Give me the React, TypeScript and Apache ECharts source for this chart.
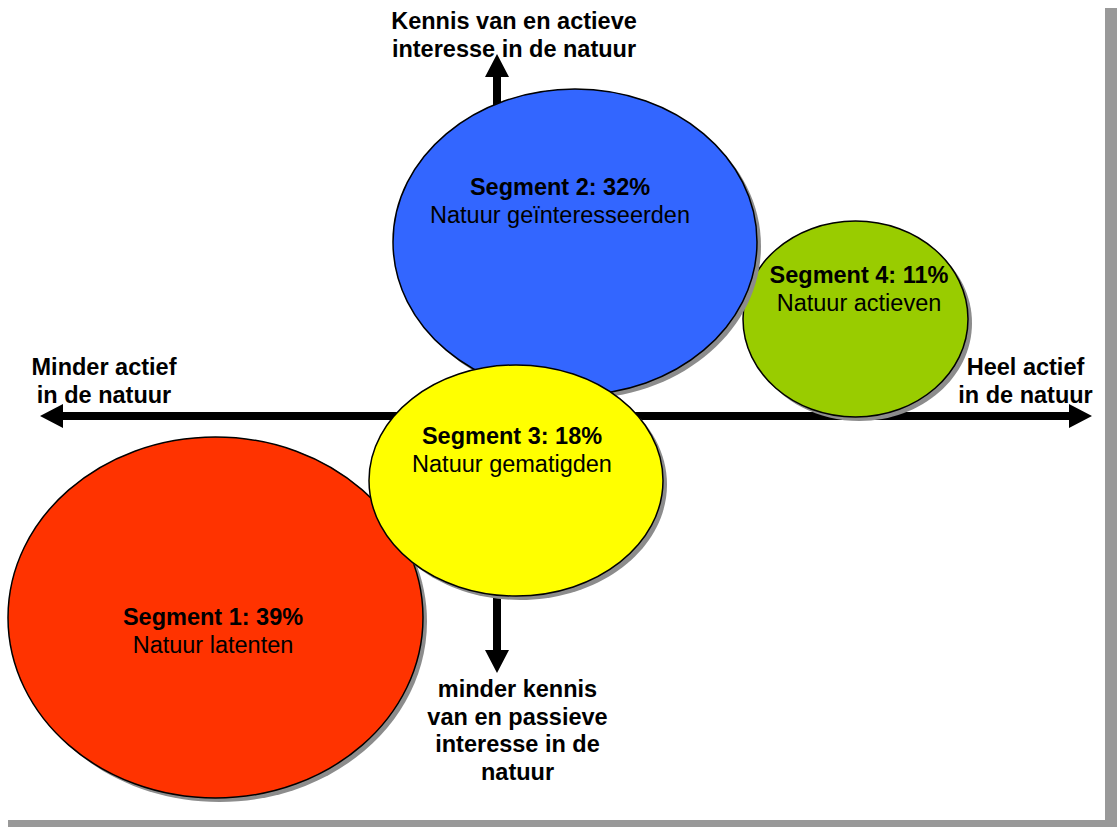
import React, { useEffect, useRef } from 'react';
import * as echarts from 'echarts';

// Segment bubbles (concept space: origin where the two arrows cross)
const segmentTitles = ['Segment 1: 39%', 'Segment 2: 32%', 'Segment 3: 18%', 'Segment 4: 11%'];
const segmentNames = ['Natuur latenten', 'Natuur geïnteresseerden', 'Natuur gematigden', 'Natuur actieven'];
const segmentColors = ['#FF3300', '#3366FF', '#FFFF00', '#99CC00'];
const segmentCenterX = [-281.5, 78, 19, 358.5];
const segmentCenterY = [-201.5, 174, -64.5, 97];
const segmentRadiusX = [207.5, 182, 147, 112.5];
const segmentRadiusY = [180.5, 153, 115.5, 98];
const segmentLabelX = [-284, 63, 15, 362];
const segmentLabelY = [-215, 215, -34, 127];
const segmentDrawOrder = [3, 1, 0, 2];

// Axis arrows (double headed)
const arrowFromX = [-457, 0];
const arrowFromY = [0, 362];
const arrowToX = [595, 0];
const arrowToY = [0, -257];

// Axis end labels
const axisLabelLines = [
  ['Kennis van en actieve', 'interesse in de natuur'],
  ['Minder actief', 'in de natuur'],
  ['Heel actief', 'in de natuur'],
  ['minder kennis', 'van en passieve', 'interesse in de', 'natuur'],
];
const axisLabelX = [17, -393, 528.5, 20.5];
const axisLabelY = [395.5, 49.5, 49.5, -273];

const X_MIN = -497;
const X_MAX = 620;
const Y_MIN = -411;
const Y_MAX = 416;

const FONT_FAMILY = '"Liberation Sans", Arial, Helvetica, sans-serif';
const BOLD_FONT = `bold 23.5px ${FONT_FAMILY}`;
const NORMAL_FONT = `23.5px ${FONT_FAMILY}`;

export default function App() {
  const ref = useRef<HTMLDivElement>(null);

  useEffect(() => {
    document.body.style.margin = '0';
    if (!ref.current) return;
    const chart = echarts.init(ref.current, undefined, { renderer: 'svg' });

    const ellipseData = segmentDrawOrder.map((i) => [
      segmentCenterX[i],
      segmentCenterY[i],
      segmentRadiusX[i],
      segmentRadiusY[i],
      segmentLabelX[i],
      segmentLabelY[i],
      i,
    ]);

    const arrowData = arrowFromX.map((_, i) => [arrowFromX[i], arrowFromY[i], arrowToX[i], arrowToY[i]]);
    const labelData = axisLabelLines.map((_, i) => [axisLabelX[i], axisLabelY[i], i]);

    const option: any = {
      animation: false,
      backgroundColor: '#ffffff',
      grid: { left: 0, right: 0, top: 0, bottom: 0, containLabel: false },
      xAxis: { type: 'value', min: X_MIN, max: X_MAX, show: false, splitLine: { show: false } },
      yAxis: { type: 'value', min: Y_MIN, max: Y_MAX, show: false, splitLine: { show: false } },
      tooltip: { show: false },
      graphic: [
        {
          type: 'rect',
          z: 0,
          silent: true,
          shape: { x: 8, y: 8, width: 1109, height: 819 },
          style: { fill: '#999999' },
        },
        {
          type: 'rect',
          z: 1,
          silent: true,
          shape: { x: 0, y: 0, width: 1105, height: 820 },
          style: { fill: '#ffffff' },
        },
      ],
      series: [
        {
          type: 'custom',
          name: 'arrows',
          coordinateSystem: 'cartesian2d',
          z: 5,
          silent: true,
          encode: { x: [0, 2], y: [1, 3] },
          data: arrowData,
          renderItem: (params: any, api: any) => {
            const p1 = api.coord([api.value(0), api.value(1)]);
            const p2 = api.coord([api.value(2), api.value(3)]);
            const dx = p2[0] - p1[0];
            const dy = p2[1] - p1[1];
            const len = Math.sqrt(dx * dx + dy * dy);
            const ux = dx / len;
            const uy = dy / len;
            const nx = -uy;
            const ny = ux;
            const L = 23;
            const H = 12;
            const s = 4;
            const pt = (base: number[], along: number, side: number) => [
              base[0] + ux * along + nx * side,
              base[1] + uy * along + ny * side,
            ];
            const points = [
              p1,
              pt(p1, L, H),
              pt(p1, L, s),
              pt(p2, -L, s),
              pt(p2, -L, H),
              p2,
              pt(p2, -L, -H),
              pt(p2, -L, -s),
              pt(p1, L, -s),
              pt(p1, L, -H),
            ];
            return {
              type: 'polygon',
              shape: { points },
              style: { fill: '#000000' },
            };
          },
        },
        {
          type: 'custom',
          name: 'segments',
          coordinateSystem: 'cartesian2d',
          z: 6,
          silent: true,
          encode: { x: 0, y: 1 },
          data: ellipseData,
          renderItem: (params: any, api: any) => {
            const c = api.coord([api.value(0), api.value(1)]);
            const sz = api.size([api.value(2), api.value(3)]);
            const lp = api.coord([api.value(4), api.value(5)]);
            const idx = api.value(6);
            return {
              type: 'group',
              children: [
                {
                  type: 'ellipse',
                  shape: { cx: c[0] + 4, cy: c[1] + 4, rx: sz[0], ry: sz[1] },
                  style: { fill: '#8c8c8c' },
                },
                {
                  type: 'ellipse',
                  shape: { cx: c[0], cy: c[1], rx: sz[0], ry: sz[1] },
                  style: { fill: segmentColors[idx], stroke: '#000000', lineWidth: 1.5 },
                },
                {
                  type: 'text',
                  x: lp[0],
                  y: lp[1] - 14,
                  style: {
                    text: segmentTitles[idx],
                    font: BOLD_FONT,
                    fill: '#000000',
                    textAlign: 'center',
                    textVerticalAlign: 'middle',
                    align: 'center',
                    verticalAlign: 'middle',
                  },
                },
                {
                  type: 'text',
                  x: lp[0],
                  y: lp[1] + 14,
                  style: {
                    text: segmentNames[idx],
                    font: NORMAL_FONT,
                    fill: '#000000',
                    textAlign: 'center',
                    textVerticalAlign: 'middle',
                    align: 'center',
                    verticalAlign: 'middle',
                  },
                },
              ],
            };
          },
        },
        {
          type: 'custom',
          name: 'axisLabels',
          coordinateSystem: 'cartesian2d',
          z: 7,
          silent: true,
          encode: { x: 0, y: 1 },
          data: labelData,
          renderItem: (params: any, api: any) => {
            const p = api.coord([api.value(0), api.value(1)]);
            const idx = api.value(2);
            const lines = axisLabelLines[idx];
            const step = lines.length > 2 ? 27.5 : 28.5;
            return {
              type: 'group',
              children: lines.map((line, j) => ({
                type: 'text',
                x: p[0],
                y: p[1] + j * step,
                style: {
                  text: line,
                  font: BOLD_FONT,
                  fill: '#000000',
                  textAlign: 'center',
                  textVerticalAlign: 'middle',
                  align: 'center',
                  verticalAlign: 'middle',
                },
              })),
            };
          },
        },
      ],
    };

    chart.setOption(option);
    return () => {
      chart.dispose();
    };
  }, []);

  return <div ref={ref} style={{ width: 1117, height: 827 }} />;
}
